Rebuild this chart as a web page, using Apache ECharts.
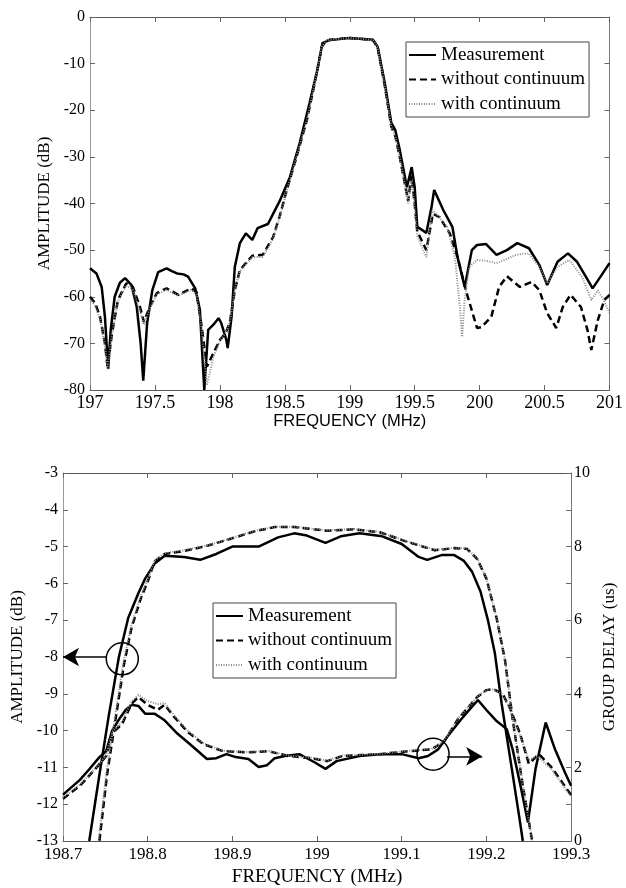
<!DOCTYPE html>
<html>
<head>
<meta charset="utf-8">
<script src="https://cdn.jsdelivr.net/npm/echarts@6/dist/echarts.min.js"></script>
<style>
  html, body { margin: 0; padding: 0; background: #fff; }
  #main { width: 626px; height: 888px; }
</style>
</head>
<body>
<div id="main"></div>
<script>
// ---- data (frequency MHz, value) ----
var seriesNames = ['Measurement', 'without continuum', 'with continuum'];

// top plot: amplitude (dB), 197..201 MHz
var topMeasurement = [[197,-53.9],[197.05,-55],[197.09,-57.9],[197.115,-64.3],[197.14,-75.5],[197.16,-67],[197.19,-60],[197.23,-57],[197.27,-56],[197.32,-57.5],[197.36,-62.2],[197.39,-70],[197.41,-78],[197.44,-65.6],[197.48,-58.6],[197.525,-54.7],[197.59,-53.9],[197.63,-54.5],[197.67,-55],[197.72,-55.2],[197.755,-55.7],[197.81,-58.2],[197.846,-62.8],[197.87,-75],[197.88,-80],[197.91,-67.1],[197.95,-66],[197.99,-64.6],[198.01,-65.6],[198.05,-69.3],[198.06,-71],[198.09,-64.3],[198.115,-53.6],[198.154,-48.5],[198.2,-46.4],[198.25,-47.8],[198.29,-45.3],[198.37,-44.4],[198.46,-39.5],[198.54,-34.3],[198.615,-27],[198.69,-18.5],[198.75,-11.4],[198.79,-5.6],[198.846,-4.9],[198.9,-4.8],[198.95,-4.6],[199,-4.5],[199.05,-4.6],[199.1,-4.7],[199.18,-4.9],[199.215,-6.4],[199.27,-14.2],[199.32,-22.7],[199.35,-24.2],[199.385,-28.5],[199.44,-36.5],[199.477,-32.2],[199.5,-36.5],[199.52,-45],[199.59,-46.3],[199.63,-40.7],[199.65,-37.1],[199.72,-41.4],[199.79,-45],[199.83,-51.5],[199.885,-57.9],[199.94,-50],[199.98,-48.9],[200.05,-48.7],[200.13,-51],[200.21,-50],[200.29,-48.5],[200.38,-49.6],[200.46,-53.2],[200.52,-57.5],[200.6,-52.5],[200.68,-50.7],[200.75,-52.5],[200.82,-55.8],[200.87,-58.2],[200.94,-55.3],[201,-52.8]];
var topWithout = [[197,-60],[197.04,-61.4],[197.077,-64.3],[197.115,-70],[197.135,-75],[197.17,-67.8],[197.215,-60.7],[197.28,-57.1],[197.33,-57.9],[197.385,-62.2],[197.415,-65.4],[197.46,-62.2],[197.515,-59.2],[197.59,-58.2],[197.68,-59.6],[197.78,-58.2],[197.82,-59],[197.86,-66.5],[197.9,-75],[197.95,-72.1],[198,-69.3],[198.05,-67.5],[198.08,-65],[198.115,-58.6],[198.154,-54.3],[198.2,-52.8],[198.25,-51.2],[198.33,-51],[198.41,-47.2],[198.46,-42.8],[198.515,-37.1],[198.59,-30],[198.67,-22.1],[198.73,-14.2],[198.785,-6.4],[198.82,-5],[198.9,-4.8],[198.95,-4.6],[199,-4.5],[199.05,-4.6],[199.1,-4.7],[199.18,-5],[199.215,-6.6],[199.27,-14.8],[199.32,-23.5],[199.35,-25.5],[199.385,-30],[199.45,-39.5],[199.475,-34],[199.5,-40],[199.52,-46],[199.59,-50],[199.64,-42.2],[199.69,-42.9],[199.77,-46.4],[199.83,-51.5],[199.9,-59.2],[199.98,-66.7],[200.015,-66.5],[200.09,-64.3],[200.15,-57.9],[200.21,-55.6],[200.31,-57.9],[200.4,-56.8],[200.46,-58.6],[200.52,-63.5],[200.59,-66.7],[200.64,-62.2],[200.7,-59.6],[200.78,-62.2],[200.83,-67.1],[200.86,-71.4],[200.91,-65],[200.96,-60.7],[201,-59.6]];
var topWith = [[197,-60.5],[197.04,-62],[197.08,-65],[197.115,-70.5],[197.135,-75.5],[197.17,-68],[197.215,-61],[197.28,-57.5],[197.33,-58.5],[197.385,-63],[197.415,-66],[197.46,-62.5],[197.515,-59.5],[197.59,-58.5],[197.68,-59.8],[197.78,-58.5],[197.82,-59.5],[197.86,-67],[197.9,-79],[197.95,-73],[198,-69.5],[198.05,-67.5],[198.08,-65],[198.115,-58.6],[198.154,-54.5],[198.2,-53],[198.25,-51.5],[198.33,-51.5],[198.41,-47.5],[198.46,-43],[198.515,-37.3],[198.59,-30],[198.67,-22.1],[198.73,-14.2],[198.785,-6.4],[198.82,-5],[198.9,-4.8],[198.95,-4.6],[199,-4.5],[199.05,-4.6],[199.1,-4.7],[199.18,-5],[199.215,-6.6],[199.27,-14.8],[199.32,-23.5],[199.35,-25.5],[199.385,-30],[199.45,-40],[199.475,-35],[199.5,-41],[199.52,-47],[199.59,-51.5],[199.635,-41.4],[199.69,-43],[199.75,-45],[199.81,-51.5],[199.85,-62.8],[199.865,-68.6],[199.885,-60.7],[199.92,-53.6],[199.98,-52.1],[200.05,-52.3],[200.13,-52.8],[200.2,-52],[200.28,-51],[200.38,-50.7],[200.46,-53.6],[200.52,-57.1],[200.6,-53.6],[200.69,-52.1],[200.79,-55.8],[200.86,-60.7],[200.91,-58.6],[200.96,-61],[201,-63.5]];

// bottom plot: passband amplitude (dB), 198.7..199.3 MHz
var ampMeasurement = [[198.731,-13],[198.743,-11.2],[198.754,-9.6],[198.766,-8.0],[198.777,-6.94],[198.789,-6.27],[198.797,-5.87],[198.808,-5.47],[198.82,-5.25],[198.843,-5.28],[198.862,-5.36],[198.881,-5.2],[198.9,-5.0],[198.931,-5.0],[198.954,-4.75],[198.973,-4.64],[198.988,-4.7],[199.01,-4.9],[199.028,-4.72],[199.05,-4.64],[199.077,-4.72],[199.1,-4.93],[199.12,-5.28],[199.13,-5.36],[199.147,-5.23],[199.162,-5.23],[199.173,-5.38],[199.183,-5.68],[199.193,-6.22],[199.202,-7.02],[199.21,-7.9],[199.218,-9.27],[199.23,-11.04],[199.239,-12.38],[199.243,-13]];
var ampWithout = [[198.743,-13],[198.752,-11.2],[198.762,-9.7],[198.772,-8.2],[198.781,-7.2],[198.792,-6.4],[198.8,-5.95],[198.808,-5.41],[198.82,-5.2],[198.843,-5.12],[198.87,-4.98],[198.896,-4.8],[198.927,-4.58],[198.95,-4.47],[198.973,-4.47],[199.012,-4.57],[199.043,-4.53],[199.074,-4.61],[199.104,-4.85],[199.139,-5.1],[199.162,-5.04],[199.177,-5.06],[199.189,-5.33],[199.2,-5.87],[199.212,-6.94],[199.222,-8.09],[199.231,-9.7],[199.243,-11.5],[199.254,-13]];
var ampWith = [[198.742,-13],[198.751,-11.2],[198.761,-9.7],[198.771,-8.2],[198.78,-7.2],[198.791,-6.4],[198.8,-5.9],[198.808,-5.38],[198.82,-5.18],[198.843,-5.1],[198.87,-4.97],[198.896,-4.79],[198.927,-4.57],[198.95,-4.46],[198.973,-4.46],[199.012,-4.56],[199.043,-4.52],[199.074,-4.6],[199.104,-4.84],[199.139,-5.09],[199.162,-5.03],[199.177,-5.05],[199.189,-5.32],[199.2,-5.86],[199.212,-6.93],[199.222,-8.08],[199.231,-9.69],[199.243,-11.49],[199.254,-13]];

// bottom plot: group delay (us)
var gdMeasurement = [[198.7,1.26],[198.72,1.66],[198.731,1.95],[198.743,2.28],[198.751,2.44],[198.758,3.0],[198.766,3.3],[198.774,3.56],[198.781,3.7],[198.789,3.67],[198.797,3.46],[198.808,3.46],[198.82,3.28],[198.835,2.92],[198.85,2.63],[198.87,2.23],[198.881,2.25],[198.893,2.36],[198.904,2.28],[198.919,2.23],[198.931,2.01],[198.941,2.06],[198.95,2.25],[198.962,2.31],[198.979,2.36],[198.997,2.14],[199.01,1.96],[199.023,2.17],[199.05,2.31],[199.074,2.36],[199.1,2.36],[199.12,2.25],[199.131,2.31],[199.143,2.49],[199.154,2.84],[199.17,3.3],[199.183,3.65],[199.19,3.83],[199.2,3.56],[199.212,3.26],[199.224,3.04],[199.231,2.49],[199.241,1.42],[199.249,0.51],[199.258,1.96],[199.27,3.22],[199.281,2.49],[199.293,1.85],[199.3,1.5]];
var gdWithout = [[198.7,1.15],[198.72,1.5],[198.739,1.98],[198.751,2.31],[198.758,2.92],[198.77,3.19],[198.781,3.73],[198.789,3.91],[198.8,3.7],[198.812,3.56],[198.82,3.7],[198.831,3.38],[198.847,2.97],[198.866,2.63],[198.889,2.44],[198.919,2.41],[198.943,2.44],[198.966,2.31],[198.993,2.25],[199.012,2.17],[199.03,2.31],[199.074,2.36],[199.108,2.44],[199.135,2.49],[199.15,2.7],[199.166,3.3],[199.189,3.91],[199.2,4.1],[199.208,4.13],[199.219,4.0],[199.227,3.65],[199.24,2.9],[199.25,2.1],[199.262,2.36],[199.277,2.0],[199.3,1.25]];
var gdWith = [[198.7,1.18],[198.72,1.53],[198.739,2.0],[198.751,2.33],[198.758,2.95],[198.77,3.25],[198.781,3.8],[198.789,3.97],[198.8,3.8],[198.812,3.72],[198.82,3.75],[198.831,3.42],[198.847,3.0],[198.866,2.65],[198.889,2.45],[198.919,2.42],[198.943,2.45],[198.966,2.32],[198.993,2.26],[199.012,2.18],[199.03,2.32],[199.074,2.37],[199.108,2.45],[199.135,2.5],[199.15,2.72],[199.166,3.32],[199.189,3.92],[199.2,4.1],[199.208,4.12],[199.219,3.98],[199.227,3.62],[199.24,2.85],[199.25,2.2],[199.26,2.3],[199.277,1.95],[199.3,1.2]];

// annotation points (frequency, value)
var ampMarker = [198.77, -8.05];
var ampArrow = [[198.7, -8], [198.7508, -8]];
var gdMarker = [199.137, 2.36];
var gdArrow = [[199.1535, 2.3], [199.195, 2.3]];

var serif = 'Liberation Serif, Times New Roman, serif';
var sans = 'Liberation Sans, Arial, sans-serif';
var lineStyles = [
    { color: '#000', width: 2.5, type: 'solid' },
    { color: '#000', width: 2.5, type: [7, 4] },
    { color: '#8a8a8a', width: 2, type: [1, 1.5] }
];

var myChart = echarts.init(document.getElementById('main'));

function valueAxis(o) {
    var base = {
        type: 'value',
        scale: true,
        splitLine: { show: false },
        axisLine: { show: true, onZero: false, lineStyle: { color: '#666', width: 1 } },
        axisTick: { show: true, inside: true, length: 5, lineStyle: { color: '#666' } },
        axisLabel: { show: true, color: '#000', fontFamily: serif, fontSize: 16, showMinLabel: true, showMaxLabel: true },
        nameTextStyle: { color: '#000', fontFamily: serif, fontSize: 17 }
    };
    return echarts.util.merge(base, o, true);
}

function mkSeries(name, data, idx, xi, yi, extra) {
    var s = {
        name: name,
        type: 'line',
        xAxisIndex: xi,
        yAxisIndex: yi,
        data: data,
        symbol: 'none',
        showSymbol: false,
        smooth: false,
        animation: false,
        clip: true,
        lineStyle: lineStyles[idx],
        itemStyle: { color: lineStyles[idx].color },
        z: 2 + idx
    };
    return echarts.util.merge(s, extra || {}, true);
}

function mkLegend(left, top) {
    return {
        data: seriesNames, left: left, top: top, orient: 'vertical',
        itemWidth: 27, itemHeight: 14, itemGap: 4.5, padding: [3, 4, 3, 2],
        borderColor: '#444', borderWidth: 1, backgroundColor: '#fff',
        itemStyle: { opacity: 0, borderWidth: 0 },
        textStyle: { fontFamily: serif, fontSize: 19, color: '#000', lineHeight: 20 },
        selectedMode: false
    };
}

var circleStyle = { color: 'rgba(0,0,0,0)', borderColor: '#000', borderWidth: 1.5 };
var arrowLine = { color: '#000', width: 1.5, type: 'solid' };

var option = {
    backgroundColor: '#fff',
    animation: false,
    grid: [
        { left: 90, top: 17, width: 520, height: 373, show: false },
        { left: 63, top: 473, width: 520, height: 373, show: false }
    ],
    legend: [mkLegend(406, 42), mkLegend(213, 603)],
    xAxis: [
        valueAxis({ gridIndex: 0, position: 'bottom', min: 197, max: 201, interval: 0.5,
            axisLine: { lineStyle: { color: '#555' } },
            axisLabel: { fontSize: 18, margin: 4 },
            name: 'FREQUENCY (MHz)', nameLocation: 'middle', nameGap: 22,
            nameTextStyle: { fontFamily: sans, fontSize: 16.5, verticalAlign: 'top' } }),
        valueAxis({ gridIndex: 0, position: 'top', min: 197, max: 201, interval: 0.5,
            axisLine: { lineStyle: { color: '#555' } },
            axisLabel: { show: false } }),
        valueAxis({ gridIndex: 1, position: 'bottom', min: 198.7, max: 199.3, interval: 0.1,
            axisLine: { lineStyle: { color: '#555' } },
            axisLabel: { fontSize: 17, margin: 5, formatter: function (v) { return String(Number(v.toFixed(1))); } },
            name: 'FREQUENCY (MHz)', nameLocation: 'middle', nameGap: 27,
            nameTextStyle: { fontFamily: serif, fontSize: 19, verticalAlign: 'top' } }),
        valueAxis({ gridIndex: 1, position: 'top', min: 198.7, max: 199.3, interval: 0.1,
            axisLine: { lineStyle: { color: '#555' } },
            axisLabel: { show: false } })
    ],
    yAxis: [
        valueAxis({ gridIndex: 0, position: 'left', min: -80, max: 0, interval: 10,
            axisLine: { lineStyle: { color: '#999' } },
            axisLabel: { margin: 5 },
            name: 'AMPLITUDE (dB)', nameLocation: 'middle', nameRotate: 90, nameGap: 32 }),
        valueAxis({ gridIndex: 0, position: 'right', min: -80, max: 0, interval: 10,
            axisLine: { lineStyle: { color: '#777' } },
            axisLabel: { show: false } }),
        valueAxis({ gridIndex: 1, position: 'left', min: -13, max: -3, interval: 1,
            axisLine: { lineStyle: { color: '#999' } },
            axisLabel: { margin: 5 },
            name: 'AMPLITUDE (dB)', nameLocation: 'middle', nameRotate: 90, nameGap: 35 }),
        valueAxis({ gridIndex: 1, position: 'right', min: 0, max: 10, interval: 1,
            axisLine: { lineStyle: { color: '#777' } },
            axisLabel: { margin: 3, formatter: function (v) { return v % 2 === 0 ? String(v) : ''; } },
            name: 'GROUP DELAY (us)', nameLocation: 'middle', nameRotate: 90, nameGap: 28 })
    ],
    series: [
        mkSeries(seriesNames[0], topMeasurement, 0, 0, 0),
        mkSeries(seriesNames[1], topWithout, 1, 0, 0),
        mkSeries(seriesNames[2], topWith, 2, 0, 0),

        mkSeries(seriesNames[0], ampMeasurement, 0, 2, 2, {
            markPoint: {
                silent: true, animation: false,
                symbol: 'circle', symbolSize: 32,
                itemStyle: circleStyle, label: { show: false },
                data: [{ coord: ampMarker }]
            },
            markLine: {
                silent: true, animation: false,
                symbol: ['arrow', 'none'], symbolSize: [14, 16],
                lineStyle: arrowLine, label: { show: false },
                data: [[{ coord: ampArrow[0] }, { coord: ampArrow[1] }]]
            }
        }),
        mkSeries(seriesNames[1], ampWithout, 1, 2, 2),
        mkSeries(seriesNames[2], ampWith, 2, 2, 2),

        mkSeries(seriesNames[0], gdMeasurement, 0, 2, 3, {
            markPoint: {
                silent: true, animation: false,
                symbol: 'circle', symbolSize: 32,
                itemStyle: circleStyle, label: { show: false },
                data: [{ coord: gdMarker }]
            },
            markLine: {
                silent: true, animation: false,
                symbol: ['none', 'arrow'], symbolSize: [14, 16],
                lineStyle: arrowLine, label: { show: false },
                data: [[{ coord: gdArrow[0] }, { coord: gdArrow[1] }]]
            }
        }),
        mkSeries(seriesNames[1], gdWithout, 1, 2, 3),
        mkSeries(seriesNames[2], gdWith, 2, 2, 3)
    ]
};

myChart.setOption(option);

window.addEventListener('resize', function () {
    myChart.resize();
});
</script>
</body>
</html>
